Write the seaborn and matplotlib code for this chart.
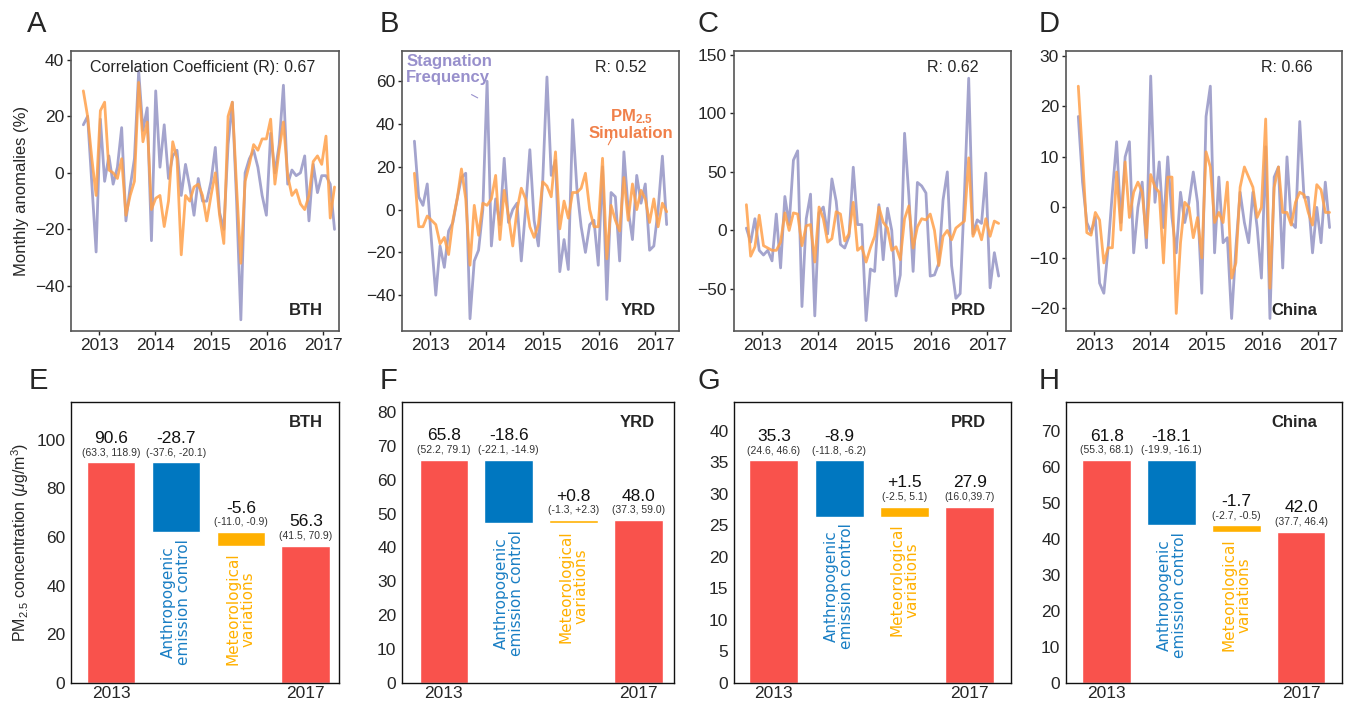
import numpy as np
import matplotlib
matplotlib.use("Agg")
import matplotlib.pyplot as plt
import seaborn as sns

# ---- données ----
# anomalies mensuelles (%) : fréquence de stagnation / PM2.5 simulé
years = np.linspace(2012.72, 2017.2, 60)

stag_bth = [17, 20, -4, -28, 19, -3, 6, -4, 2, 16,
            -17, -5, 5, 36, 15, 23, -24, 29, 2, 17,
            -2, 6, 8, -8, 3, -5, -15, -2, -10, -10,
            -3, 9, -14, -20, 10, 25, -10, -52, 0, 5,
            8, 2, -8, -15, 14, 0, 10, 31, -4, 1,
            -1, 0, 6, -17, 3, -7, -1, -1, -4, -20]
pm_bth = [29, 20, 5, -8, 22, 25, 1, 0, -2, 5,
          -15, -8, -3, 32, 11, 18, -13, -9, -8, -19,
          -10, 11, 5, -29, -8, -10, -5, -4, -8, -17,
          -8, 0, -15, -25, 20, 25, -5, -32, -3, 3,
          10, 8, 12, 12, 19, -4, 8, 18, -1, -8,
          -6, -11, -13, -8, 4, 6, 3, 13, -16, -5]

stag_yrd = [32, 6, 2, 12, -15, -40, -17, -27, -10, -6,
            5, 15, 17, -51, -24, -19, 0, 60, -17, 5,
            -7, 24, -6, 0, 3, -24, 0, 28, -5, -17,
            13, 62, 16, 23, -29, -14, -28, 42, 10, -8,
            -20, -7, -5, -26, 20, -42, 8, 6, -24, 27,
            0, -14, 16, 3, 12, -19, -17, 0, 25, -7]
pm_yrd = [17, -8, -8, -3, -5, -7, -16, -13, -21, -5,
          5, 19, 5, -26, 2, -12, 3, 2, 5, 16,
          -14, 9, -3, -17, 0, 10, 5, -8, -13, -7,
          13, 11, 6, 27, -9, 4, -4, 8, 8, 10,
          17, 0, -8, -8, 24, -23, 2, -5, -10, 15,
          -5, 12, 0, 9, 5, -6, 5, -8, 3, -1]

stag_prd = [2, -10, 10, -17, -21, -17, -26, 14, -32, 29,
            5, 60, 68, -65, 10, 31, -73, 15, 20, -3,
            44, 25, -12, -15, -5, 54, 5, 5, -77, -33,
            -35, 22, -25, 19, 0, -56, -38, 83, 30, -35,
            41, 38, 32, -39, -38, -28, 26, 50, -30, -58,
            -54, 30, 130, -3, 9, 6, 49, -49, -19, -39]
pm_prd = [22, -22, -14, 13, -13, -15, -17, -17, -10, 15,
          0, 15, 14, -13, 4, 5, -27, 20, 10, -10,
          -7, 16, 14, -9, -3, 24, -17, -14, -27, -15,
          -5, 20, 7, 2, -17, -14, -25, 10, 21, -15,
          3, 10, 9, 14, 0, -30, -5, 0, -8, 2,
          5, 8, 62, -5, 4, -8, 10, -5, 8, 6]

stag_china = [18, 5, -3, -5, -2, -15, -17, -8, 3, 13,
              -3, 10, 13, -9, 0, 5, -8, 26, 1, 9,
              -4, 10, -2, -9, 3, -3, 1, 7, 1, -17,
              18, 24, -9, 6, -7, -6, -22, -8, 3, -3,
              -7, 3, -4, -14, 12, -22, 6, 8, -12, 10,
              -3, -4, 17, 2, 2, -9, 0, -7, 5, -4]
pm_china = [24, 10, -5, -5.5, -1, -2.5, -11, -8, -8, 7,
            -4.5, 9, -2, 3, 5, 3, -6, 6.5, 4, 3,
            -11, 6, 6, -21, -7, 1, 0, -6, -2, -10,
            11, 8, -3, -1, -3, 5, -14, -11, 4, 8,
            6, 4, -2, 0, 17.5, -16, 4, 8, -1, -1,
            -3.5, 1, 3, 2.5, -1, -3.5, 4.5, 3.5, -1, -1]

regions = ['BTH', 'YRD', 'PRD', 'China']
r_values = ['Correlation Coefficient (R): 0.67', 'R: 0.52', 'R: 0.62', 'R: 0.66']

# décomposition 2013 -> 2017 (µg/m3)
pm_2013 = [90.6, 65.8, 35.3, 61.8]
anthro = [-28.7, -18.6, -8.9, -18.1]
meteo = [-5.6, 0.8, 1.5, -1.7]
pm_2017 = [56.3, 48.0, 27.9, 42.0]
ci_2013 = ['(63.3, 118.9)', '(52.2, 79.1)', '(24.6, 46.6)', '(55.3, 68.1)']
ci_anthro = ['(-37.6, -20.1)', '(-22.1, -14.9)', '(-11.8, -6.2)', '(-19.9, -16.1)']
ci_meteo = ['(-11.0, -0.9)', '(-1.3, +2.3)', '(-2.5, 5.1)', '(-2.7, -0.5)']
ci_2017 = ['(41.5, 70.9)', '(37.3, 59.0)', '(16.0,39.7)', '(37.7, 46.4)']

# ---- style ----
sns.set_theme(style='ticks')
plt.rcParams['font.family'] = ['Liberation Sans', 'DejaVu Sans']
plt.rcParams['mathtext.fontset'] = 'custom'
plt.rcParams['mathtext.rm'] = 'Liberation Sans'
plt.rcParams['mathtext.it'] = 'Liberation Sans:italic'
plt.rcParams['mathtext.bf'] = 'Liberation Sans:bold'

purple = '#9a9ac8'
orange = '#ffa04a'
red = '#f9524c'
blue = '#0077c0'
yellow = '#ffb000'

fig = plt.figure(figsize=(13.5, 7.03), dpi=100)

top_pos = [[0.0526, 0.529, 0.1985, 0.398], [0.2978, 0.529, 0.2052, 0.398],
           [0.5437, 0.529, 0.2052, 0.398], [0.7896, 0.529, 0.2044, 0.398]]
bot_pos = [[0.0526, 0.0285, 0.1985, 0.40], [0.2978, 0.0285, 0.2015, 0.40],
           [0.5437, 0.0285, 0.2052, 0.40], [0.7896, 0.0285, 0.2044, 0.40]]
top_xlim = [(2012.5, 2017.28), (2012.5, 2017.42), (2012.5, 2017.42), (2012.5, 2017.42)]
top_ylim = [(-56, 43), (-56.8, 74), (-86, 153), (-24.5, 30.9)]
top_yticks = [range(-40, 41, 20), range(-40, 61, 20), range(-50, 151, 50), range(-20, 31, 10)]
bot_ylim = [115.5, 83, 44.6, 78]
bot_yticks = [range(0, 101, 20), range(0, 81, 10), range(0, 41, 5), range(0, 71, 10)]
bot_xlim = [(-0.615, 3.51), (-0.646, 3.55), (-0.61, 3.63), (-0.63, 3.63)]
r_x = [0.49, 0.79, 0.79, 0.80]
reg_x_top = [0.94, 0.915, 0.91, 0.91]
reg_x_bot = [0.94, 0.93, 0.91, 0.91]

stag_all = [stag_bth, stag_yrd, stag_prd, stag_china]
pm_all = [pm_bth, pm_yrd, pm_prd, pm_china]

# ---- ligne du haut : anomalies mensuelles ----
for k in range(4):
    ax = fig.add_axes(top_pos[k])
    sns.lineplot(x=years, y=stag_all[k], ax=ax, color=purple, lw=2.0, alpha=0.9)
    sns.lineplot(x=years, y=pm_all[k], ax=ax, color=orange, lw=2.0, alpha=0.85)
    ax.set_xlim(*top_xlim[k])
    ax.set_ylim(*top_ylim[k])
    ax.set_xticks([2013, 2014, 2015, 2016, 2017])
    ax.set_yticks(list(top_yticks[k]))
    ax.tick_params(labelsize=12.5, length=3, width=1, pad=2)
    for s in ax.spines.values():
        s.set_color('#555555')
        s.set_linewidth(1.2)
    ax.text(r_x[k], 0.943, r_values[k], transform=ax.transAxes, ha='center',
            va='center', fontsize=11.5)
    ax.text(reg_x_top[k], 0.075, regions[k], transform=ax.transAxes, ha='right',
            va='center', fontsize=12, fontweight='bold')
    if k == 0:
        ax.set_ylabel('Monthly anomalies (%)', fontsize=12)
    if k == 1:
        ax.text(0.015, 0.99, 'Stagnation\nFrequency', transform=ax.transAxes,
                ha='left', va='top', fontsize=12, fontweight='bold',
                color='#9890cc', linespacing=1.05)
        ax.annotate('', xy=(0.282, 0.829), xytext=(0.242, 0.85),
                    xycoords='axes fraction',
                    arrowprops=dict(arrowstyle='-', color='#9890cc', lw=0.8))
        ax.text(0.827, 0.80, 'PM$_{\\mathbf{2.5}}$\nSimulation', transform=ax.transAxes,
                ha='center', va='top', fontsize=12, fontweight='bold',
                color='#f0804a', linespacing=1.0)
        ax.annotate('', xy=(0.74, 0.657), xytext=(0.762, 0.70),
                    xycoords='axes fraction',
                    arrowprops=dict(arrowstyle='-', color='#f0804a', lw=0.8))

# ---- ligne du bas : décomposition en cascade ----
for k in range(4):
    ax = fig.add_axes(bot_pos[k])
    start = pm_2013[k]
    mid = start + anthro[k]
    end = mid + meteo[k]
    bottoms = [0, min(start, mid), min(mid, end), 0]
    heights = [start, abs(anthro[k]), abs(meteo[k]), pm_2017[k]]
    tops = [start, start, max(mid, end), pm_2017[k]]
    ax.bar(range(4), heights, bottom=bottoms, width=0.75,
           color=[red, blue, yellow, red])
    values = ['%.1f' % start, '%+.1f' % anthro[k], '%+.1f' % meteo[k], '%.1f' % pm_2017[k]]
    cis = [ci_2013[k], ci_anthro[k], ci_meteo[k], ci_2017[k]]
    for i in range(4):
        ax.annotate(values[i], xy=(i, tops[i]), xytext=(0, 12), textcoords='offset points',
                    ha='center', va='bottom', fontsize=12.5, color='#111111')
        ax.annotate(cis[i], xy=(i, tops[i]), xytext=(0, 3.5), textcoords='offset points',
                    ha='center', va='bottom', fontsize=7.5, color='#333333')
    ax.annotate('Anthropogenic\nemission control', xy=(1, bottoms[1]), xytext=(0, -5),
                textcoords='offset points', rotation=90, ha='center', va='top',
                multialignment='center', fontsize=11, color='#1a7fc4',
                family='DejaVu Sans', linespacing=1.0)
    ax.annotate('Meteorological\nvariations', xy=(2, bottoms[2]), xytext=(0, -5),
                textcoords='offset points', rotation=90, ha='center', va='top',
                multialignment='center', fontsize=11, color=yellow,
                family='DejaVu Sans', linespacing=1.0)
    ax.set_xlim(*bot_xlim[k])
    ax.set_ylim(0, bot_ylim[k])
    ax.set_xticks(range(4))
    ax.set_xticklabels(['2013', '', '', '2017'])
    ax.set_yticks(list(bot_yticks[k]))
    ax.tick_params(axis='x', labelsize=12.5, length=0, pad=2)
    ax.tick_params(axis='y', labelsize=12.5, length=0, pad=4)
    for s in ax.spines.values():
        s.set_color('#111111')
        s.set_linewidth(1.0)
    ax.text(reg_x_bot[k], 0.925, regions[k], transform=ax.transAxes, ha='right',
            va='center', fontsize=12, fontweight='bold')
    if k == 0:
        ax.set_ylabel('PM$_{2.5}$ concentration ($\\mu$g/m$^3$)', fontsize=11.5)

# lettres des panneaux
for letter, x, y in zip('ABCDEFGH',
                        [0.020, 0.2815, 0.517, 0.769, 0.021, 0.2815, 0.517, 0.769],
                        [0.966, 0.966, 0.966, 0.966, 0.458, 0.458, 0.458, 0.458]):
    fig.text(x, y, letter, fontsize=21, ha='left', va='center')

plt.savefig('out.png', dpi=100)
plt.close()
